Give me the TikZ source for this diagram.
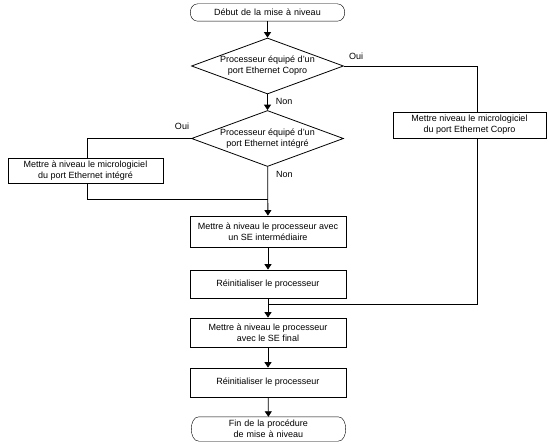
\documentclass[tikz,border=0pt]{standalone}
\usepackage{fontspec}
\setmainfont{Liberation Sans}
\usetikzlibrary{arrows.meta,shapes.geometric}
\newcommand\drawterm[1]{%
  \draw (#1.north west) -- (#1.north east)
    .. controls +(10,0) and +(10,0) .. (#1.south east)
    -- (#1.south west)
    .. controls +(-10,0) and +(-10,0) .. (#1.north west);}
\begin{document}
\begin{tikzpicture}[x=1pt,y=-1pt,
  every node/.style={font=\fontsize{9}{11}\selectfont, inner sep=0pt, align=center},
  term/.style={rectangle, minimum width=139, text width=139},
  boxnode/.style={rectangle, draw, line width=0.8pt, minimum width=156},
  dec/.style={diamond, draw, line width=0.8pt, aspect=2.7, minimum width=152, minimum height=56, inner sep=0pt},
  conn/.style={draw, line width=0.8pt},
  arr/.style={conn, -{Triangle[width=7pt,length=5.5pt]}},
  lbl/.style={font=\fontsize{9}{10}\selectfont}]
\useasboundingbox (0,0) rectangle (549,444);
\fill[white] (0,0) rectangle (549,444);

\node[term, minimum height=17] (start) at (267.5,12.5) {Début de la mise à niveau};
\drawterm{start}
\node[dec] (d1) at (267.5,66) {};
\node at (267.5,66) {Processeur équipé d'un\\port Ethernet Copro};
\node[dec] (d2) at (267.5,138.5) {};
\node at (267.5,138.5) {Processeur équipé d'un\\port Ethernet intégré};
\node[boxnode, minimum width=155, minimum height=25] (lbox) at (85.5,170.5) {Mettre à niveau le micrologiciel\\du port Ethernet intégré};
\node[boxnode, minimum width=153, minimum height=26] (rbox) at (469.5,125) {Mettre niveau le micrologiciel\\du port Ethernet Copro};
\node[boxnode, minimum height=31] (b3) at (268,231.5) {Mettre à niveau le processeur avec\\un SE intermédiaire};
\node[boxnode, minimum height=28] (b4) at (268,284) {Réinitialiser le processeur};
\node[boxnode, minimum height=29] (b5) at (268,332.5) {Mettre à niveau le processeur\\avec le SE final};
\node[boxnode, minimum height=29] (b6) at (268,382.5) {Réinitialiser le processeur};
\node[term, minimum height=24] (end) at (268.5,429) {Fin de la procédure\\de mise à niveau};
\drawterm{end}

\coordinate (rx) at (477,0);
\coordinate (lx) at (87,0);
\coordinate (j1) at (267.5,199);
\coordinate (j2) at (267.5,304);

\draw[arr] (start) -- (d1);
\draw[arr] (d1) -- (d2) node[lbl, pos=0.45, right=8pt] {Non};
\draw[conn] (d1.east) -| (rx |- rbox.north);
\node[lbl] (oui1) at (356,56.5) {Oui};
\draw[conn] (rx |- rbox.south) |- (j2);
\draw[conn] (d2.west) -| (lx |- lbox.north);
\node[lbl] (oui2) at (182,126.5) {Oui};
\draw[conn] (lx |- lbox.south) |- (j1);
\draw[arr] (d2) -- (b3) node[lbl, pos=0.15, right=8pt] {Non};
\draw[arr] (b3) -- (b4);
\draw[arr] (b4) -- (b5);
\draw[arr] (b5) -- (b6);
\draw[arr] (b6) -- (end);
\end{tikzpicture}
\end{document}
